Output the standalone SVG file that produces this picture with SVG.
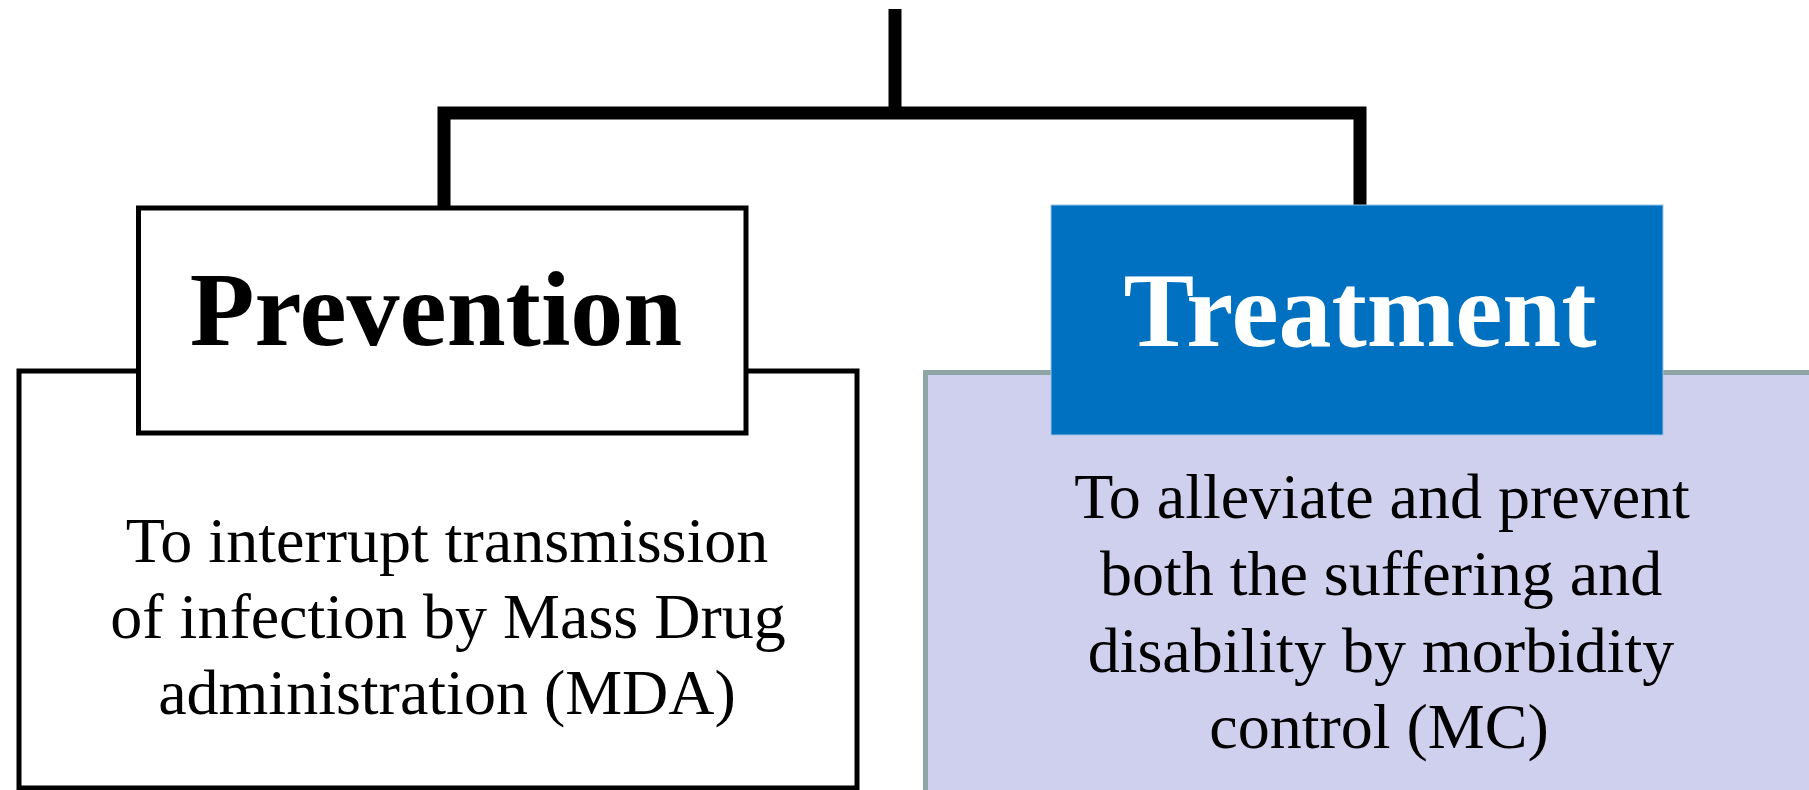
<svg xmlns="http://www.w3.org/2000/svg" width="1809" height="790" viewBox="0 0 1809 790">
<style>
.head{font-family:"Liberation Serif","Times New Roman",serif;font-weight:bold;font-size:106px;text-anchor:middle}
.body{font-family:"Liberation Serif","Times New Roman",serif;font-size:64px;text-anchor:middle;fill:#000}
.conn{fill:none;stroke:#000;stroke-width:13;stroke-linejoin:miter;stroke-linecap:butt}
</style>
<rect width="1809" height="790" fill="#fff"/>
<g id="prevention-detail">
<rect x="19" y="371" width="838" height="417" fill="#fff" stroke="#000" stroke-width="5"/>
<text class="body" x="447" y="562">To interrupt transmission</text>
<text class="body" x="448" y="638">of infection by Mass Drug</text>
<text class="body" x="447" y="714">administration (MDA)</text>
</g>
<g id="treatment-detail">
<rect x="925.5" y="372.5" width="900" height="430" fill="#CFCFEE" stroke="#8EA5A5" stroke-width="5"/>
<text class="body" x="1382" y="518">To alleviate and prevent</text>
<text class="body" x="1381" y="595">both the suffering and</text>
<text class="body" x="1381" y="672">disability by morbidity</text>
<text class="body" x="1379" y="748">control (MC)</text>
</g>
<g id="connectors">
<path class="conn" d="M895,9 V113"/>
<path class="conn" d="M444,208 V113 H1360 V205"/>
</g>
<g id="prevention">
<rect x="138.5" y="208" width="607.5" height="225" fill="#fff" stroke="#000" stroke-width="5"/>
<text class="head" x="436" y="345" fill="#000">Prevention</text>
</g>
<g id="treatment">
<rect x="1051" y="205" width="612" height="230" fill="#0070C0" stroke="#9CC3E5" stroke-width="1"/>
<text class="head" x="1360" y="346" fill="#fff">Treatment</text>
</g>
</svg>
